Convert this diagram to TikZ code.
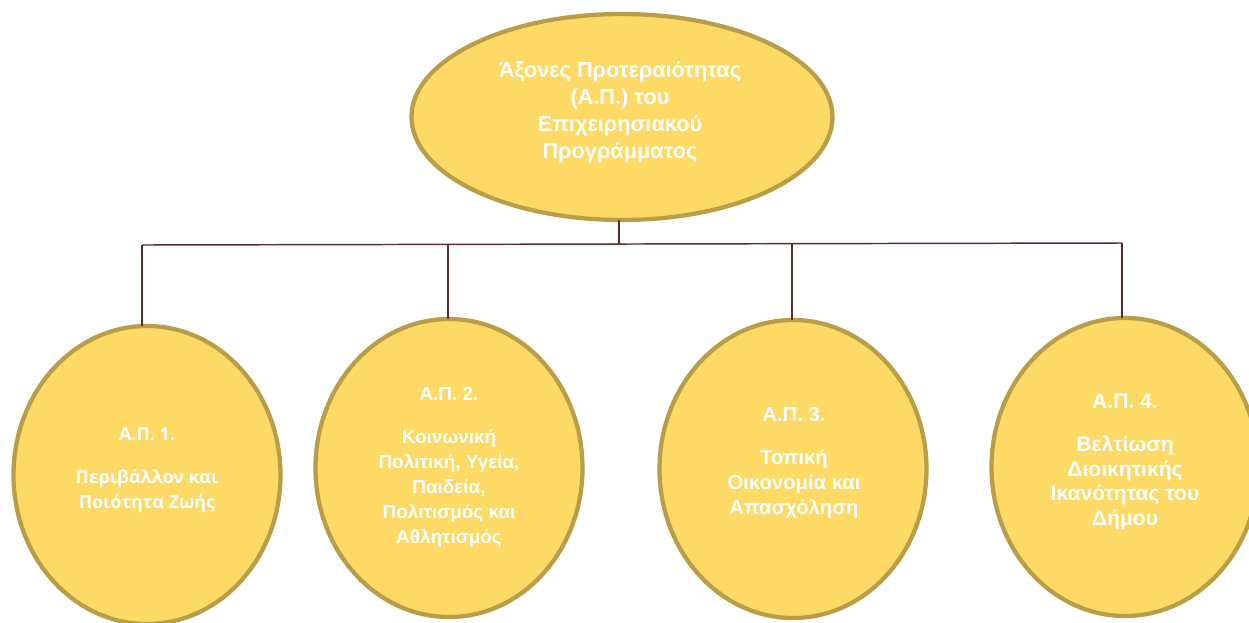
\documentclass[tikz,border=0pt]{standalone}
\usepackage{fontspec}
\setmainfont{Liberation Sans}
\newfontfamily\osans{Open Sans}
\usetikzlibrary{shapes.geometric}
\definecolor{fillY}{HTML}{FDD966}
\definecolor{edgeY}{HTML}{BA9D47}
\definecolor{conn}{HTML}{5B2C2C}
\begin{document}
\begin{tikzpicture}[x=0.75pt,y=-0.75pt,
  oval/.style={ellipse, draw=edgeY, fill=fillY, line width=3.2pt, inner sep=0pt, outer sep=0pt},
  topoval/.style={oval, minimum width=315.75pt, minimum height=154.5pt},
  suboval/.style={oval, minimum width=200.25pt, minimum height=223.5pt},
  txt/.style={text=white, align=center, inner sep=0pt},
  toptext/.style={txt, font=\bfseries\fontsize{16.3}{20.25}\selectfont},
  subtextA/.style={txt, font=\osans\bfseries\fontsize{13.4}{18.75}\selectfont},
  subtextB/.style={txt, font=\bfseries\fontsize{14.2}{18.75}\selectfont},
  subtextC/.style={txt, font=\bfseries\fontsize{15.2}{18.75}\selectfont},
  subtextD/.style={txt, font=\bfseries\fontsize{15.8}{18.6}\selectfont},
  link/.style={draw=conn, line width=1.1pt}]
\useasboundingbox (0,0) rectangle (1249,622);
\clip (0,0) rectangle (1249,622);
\fill[white] (0,0) rectangle (1249,622);

% nodes
\node[topoval] (e0) at (622,117) {};
\node[suboval] (e1) at (147,475) {};
\node[suboval] (e2) at (449,468) {};
\node[suboval] (e3) at (793,469) {};
\node[suboval] (e4) at (1125,467) {};

\node[toptext] (t0) at (620,112.5) {Άξονες Προτεραιότητας\\(Α.Π.) του\\Επιχειρησιακού\\Προγράμματος};
\node[subtextA] (t1) at (147,470) {Α.Π. 1.\\[13.5pt]Περιβάλλον και\\Ποιότητα Ζωής};
\node[subtextB] (t2) at (449,467) {Α.Π. 2.\\[13.5pt]Κοινωνική\\Πολιτική, Υγεία,\\Παιδεία,\\Πολιτισμός και\\Αθλητισμός};
\node[subtextC] (t3) at (794,463) {Α.Π. 3.\\[13.5pt]Τοπική\\Οικονομία και\\Απασχόληση};
\node[subtextD] (t4) at (1125,462) {Α.Π. 4.\\[13.5pt]Βελτίωση\\Διοικητικής\\Ικανότητας του\\Δήμου};

% connectors
\coordinate (b0) at (619,244);
\coordinate (b1) at (142,245);
\coordinate (b2) at (448,245);
\coordinate (b3) at (792,244);
\coordinate (b4) at (1122,243);
\draw[link] (b1) -- (b4);
\draw[link] (e0.south -| b0) -- (b0);
\draw[link] (b1) -- (b1 |- e1.north);
\draw[link] (b2) -- (b2 |- e2.north);
\draw[link] (b3) -- (b3 |- e3.north);
\draw[link] (b4) -- (b4 |- e4.north);
\end{tikzpicture}
\end{document}
